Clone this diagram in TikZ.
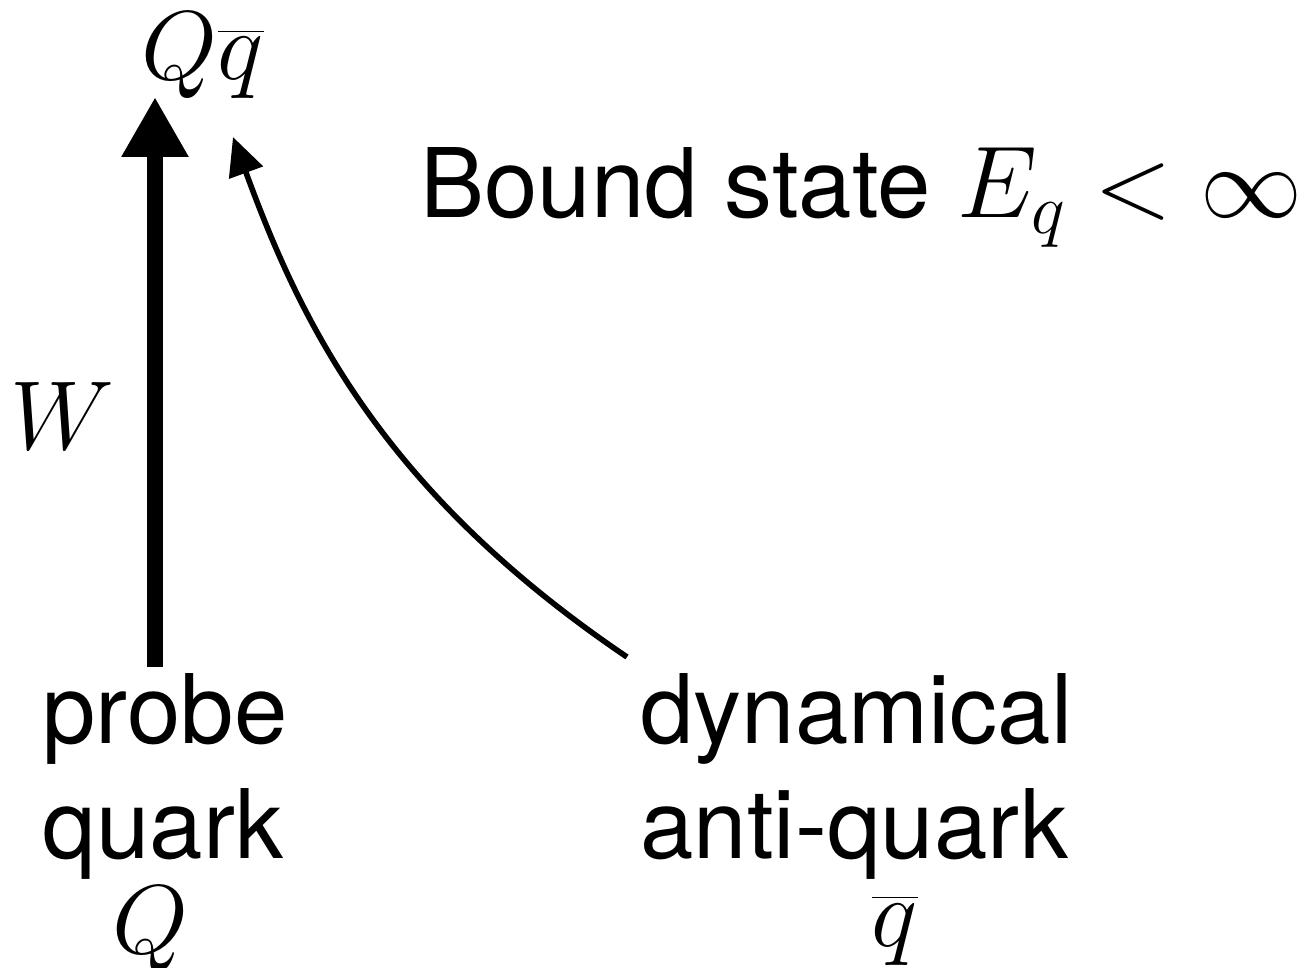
\RequirePackage{fix-cm}
\documentclass[tikz,border=0pt]{standalone}
\usepackage{fontspec}
\setsansfont{TeX Gyre Heros}
\usetikzlibrary{arrows.meta}
\newcommand{\qbarsym}{\overline{\rule{0pt}{0.47em}q}}
\begin{document}
\begin{tikzpicture}[x=0.5pt,y=-0.5pt,
  lbl/.style={inner sep=0pt, font=\sffamily\fontsize{48}{57}\selectfont},
  mlbl/.style={inner sep=0pt, font=\fontsize{49}{57}\selectfont},
  thickarrow/.style={line width=8pt,-{Triangle[length=30pt,width=31.5pt]}},
  curvearrow/.style={line width=2.8pt,-{Triangle[length=19pt,width=17.5pt]}}]
\useasboundingbox (0,0) rectangle (1305,968);
\node[mlbl, anchor=base] (top) at (203,80) {$Q\qbarsym$};
\node[lbl, anchor=base west] (bound) at (420,218) {Bound state {\fontsize{51}{57}\selectfont$E_q<\infty$}};
\node[mlbl] (W) at (62,416) {$W$};
\node[lbl, anchor=base west] (probe) at (42,743) {probe};
\node[lbl, anchor=base west] (quark) at (42,858) {quark};
\node[mlbl, anchor=base] (Q) at (150,953) {$Q$};
\node[lbl, anchor=base west] (dyn) at (640,743) {dynamical};
\node[lbl, anchor=base west] (anti) at (640,858) {anti-quark};
\node[mlbl, anchor=base] (qbar) at (895,946) {$\qbarsym$};
\coordinate (pstart) at (155,667);
\coordinate (ptip) at (155,97);
\coordinate (dstart) at (627,657);
\coordinate (dtip) at (233,137);
\draw[thickarrow] (pstart) -- (ptip);
\draw[curvearrow] (dstart) .. controls (380,490) and (300,320) .. (dtip);
\end{tikzpicture}
\end{document}
